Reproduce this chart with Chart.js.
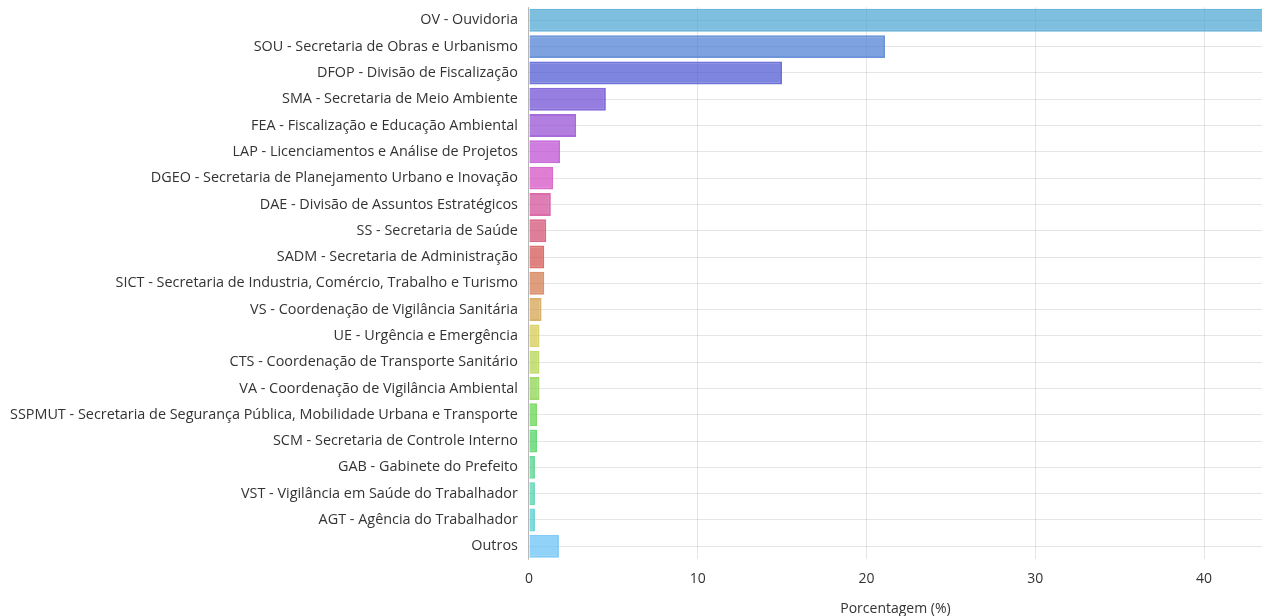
<!DOCTYPE html>
<html>
<head>
<meta charset="utf-8">
<script src="https://cdn.jsdelivr.net/npm/chart.js@4/dist/chart.umd.min.js"></script>
<style>
  html, body { margin: 0; padding: 0; background: #fff; overflow: hidden; }
  #wrap { position: relative; width: 1262px; height: 632px; }
</style>
</head>
<body>
<div id="wrap"><canvas id="chart"></canvas></div>
<script>
// Unidades e percentual de manifestações
const categories = [
  'OV - Ouvidoria',
  'SOU - Secretaria de Obras e Urbanismo',
  'DFOP - Divisão de Fiscalização',
  'SMA - Secretaria de Meio Ambiente',
  'FEA - Fiscalização e Educação Ambiental',
  'LAP - Licenciamentos e Análise de Projetos',
  'DGEO - Secretaria de Planejamento Urbano e Inovação',
  'DAE - Divisão de Assuntos Estratégicos',
  'SS - Secretaria de Saúde',
  'SADM - Secretaria de Administração',
  'SICT - Secretaria de Industria, Comércio, Trabalho e Turismo',
  'VS - Coordenação de Vigilância Sanitária',
  'UE - Urgência e Emergência',
  'CTS - Coordenação de Transporte Sanitário',
  'VA - Coordenação de Vigilância Ambiental',
  'SSPMUT - Secretaria de Segurança Pública, Mobilidade Urbana e Transporte',
  'SCM - Secretaria de Controle Interno',
  'GAB - Gabinete do Prefeito',
  'VST - Vigilância em Saúde do Trabalhador',
  'AGT - Agência do Trabalhador',
  'Outros'
];

const percentages = [
  44.0, 21.1, 15.0, 4.56, 2.80, 1.85, 1.44, 1.30, 1.03, 0.91,
  0.91, 0.75, 0.63, 0.63, 0.63, 0.49, 0.49, 0.36, 0.36, 0.36, 1.78
];

const xTicks = [0, 10, 20, 30, 40];
const xMax = 43.43;

// cores: arco-íris a partir do azul, "Outros" em azul claro
function barColor(i, alpha) {
  if (i === categories.length - 1) return `hsla(202, 88%, 67%, ${alpha})`;
  const hue = (200 + i * 18) % 360;
  return `hsla(${hue}, 60%, 55%, ${alpha})`;
}
const fills = categories.map((c, i) => barColor(i, 0.7));
const borders = categories.map((c, i) => barColor(i, 0.8));

Chart.defaults.font.family = '"Open Sans", sans-serif';
Chart.defaults.font.size = 14;
Chart.defaults.color = '#333';

new Chart(document.getElementById('chart').getContext('2d'), {
  type: 'bar',
  data: {
    labels: categories,
    datasets: [{
      data: percentages,
      backgroundColor: fills,
      borderColor: borders,
      borderWidth: 2,
      categoryPercentage: 0.9,
      barPercentage: 0.97
    }]
  },
  options: {
    indexAxis: 'y',
    responsive: true,
    maintainAspectRatio: false,
    animation: false,
    layout: { padding: { top: 7, left: 10, right: 0, bottom: 0 } },
    plugins: {
      legend: { display: false },
      tooltip: { enabled: false }
    },
    scales: {
      x: {
        min: 0,
        max: xMax,
        afterBuildTicks: function(axis) {
          axis.ticks = xTicks.map(v => ({ value: v }));
        },
        ticks: { padding: 11, includeBounds: false },
        grid: { drawTicks: false, color: 'rgba(0,0,0,0.1)' },
        border: { display: false },
        title: {
          display: true,
          text: 'Porcentagem (%)',
          padding: { top: 2, bottom: 15 }
        }
      },
      y: {
        ticks: { padding: 0, font: { size: 14.4, lineHeight: 1 } },
        grid: {
          drawTicks: true, tickLength: 11, tickColor: 'rgba(0,0,0,0)',
          offset: false, color: 'rgba(0,0,0,0.1)'
        },
        border: { display: true, color: 'rgba(0,0,0,0.2)' }
      }
    }
  }
});
</script>
</body>
</html>
